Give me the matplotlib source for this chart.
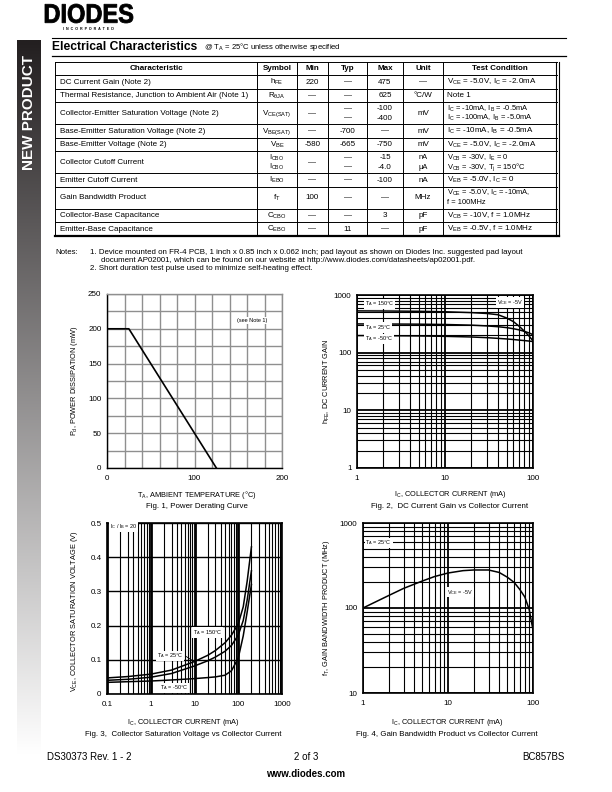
import numpy as np
import matplotlib
matplotlib.use('Agg')
import matplotlib.pyplot as plt
from matplotlib.ticker import FixedLocator, FixedFormatter, NullFormatter, LogLocator, MultipleLocator, FormatStrFormatter
from matplotlib.textpath import TextPath
from matplotlib.patches import PathPatch
from matplotlib.font_manager import FontProperties
from matplotlib.transforms import Affine2D
from matplotlib.colors import LinearSegmentedColormap

plt.rcParams['font.family'] = ['Liberation Sans', 'DejaVu Sans']
plt.rcParams['mathtext.fontset'] = 'custom'
plt.rcParams['mathtext.rm'] = 'Liberation Sans'
plt.rcParams['mathtext.it'] = 'Liberation Sans:italic'
plt.rcParams['mathtext.bf'] = 'Liberation Sans:bold'
plt.rcParams['mathtext.default'] = 'regular'

# ---------------- data ----------------
table_header = ["Characteristic", "Symbol", "Min", "Typ", "Max", "Unit", "Test Condition"]
characteristics = ["DC Current Gain (Note 2)",
                   "Thermal Resistance, Junction to Ambient Air (Note 1)",
                   "Collector-Emitter Saturation Voltage (Note 2)",
                   "Base-Emitter Saturation Voltage (Note 2)",
                   "Base-Emitter Voltage (Note 2)",
                   "Collector Cutoff Current",
                   "Emitter Cutoff Current",
                   "Gain Bandwidth Product",
                   "Collector-Base Capacitance",
                   "Emitter-Base Capacitance"]
symbols = ["$h_{FE}$", "$R_{θJA}$", "$V_{CE(SAT)}$", "$V_{BE(SAT)}$", "$V_{BE}$",
           "$I_{CBO}$\n$I_{CBO}$", "$I_{EBO}$", "$f_T$", "$C_{CBO}$", "$C_{EBO}$"]
min_vals = ["220", "—", "—", "—", "-580", "—", "—", "100", "—", "—"]
typ_vals = ["—", "—", "—\n—", "-700", "-665", "—\n—", "—", "—", "—", "11"]
max_vals = ["475", "625", "-100\n-400", "—", "-750", "-15\n-4.0", "-100", "—", "3", "—"]
units = ["—", "°C/W", "mV", "mV", "mV", "nA\nµA", "nA", "MHz", "pF", "pF"]
test_conditions = ["$V_{CE}$ = -5.0V, $I_C$ = -2.0mA",
                   "Note 1",
                   "$I_C$ = -10mA, $I_B$ = -0.5mA\n$I_C$ = -100mA, $I_B$ = -5.0mA",
                   "$I_C$ = -10mA, $I_B$ = -0.5mA",
                   "$V_{CE}$ = -5.0V, $I_C$ = -2.0mA",
                   "$V_{CB}$ = -30V, $I_E$ = 0\n$V_{CB}$ = -30V, $T_j$ = 150°C",
                   "$V_{EB}$ = -5.0V, $I_C$ = 0",
                   "$V_{CE}$ = -5.0V, $I_C$ = -10mA,\nf = 100MHz",
                   "$V_{CB}$ = -10V, f = 1.0MHz",
                   "$V_{EB}$ = -0.5V, f = 1.0MHz"]
notes = ["1. Device mounted on FR-4 PCB, 1 inch x 0.85 inch x 0.062 inch; pad layout as shown on Diodes Inc. suggested pad layout",
         "document AP02001, which can be found on our website at http://www.diodes.com/datasheets/ap02001.pdf.",
         "2. Short duration test pulse used to minimize self-heating effect."]

# Fig 1: power derating
temp_c = [0, 25, 125]
power_mw = [200, 200, 0]
# Fig 2: hFE vs Ic
ic2 = [1, 2, 5, 10, 20, 30, 40, 50, 60, 70, 80, 90, 100]
hfe_150 = [530, 528, 522, 512, 495, 478, 455, 400, 345, 285, 235, 195, 160]
hfe_25 = [315, 314, 312, 308, 300, 291, 282, 272, 260, 248, 234, 220, 205]
hfe_m50 = [198, 197, 195, 192, 187, 182, 177, 173, 169, 165, 162, 159, 156]
# Fig 3: Vce(sat) vs Ic
ic3 = [0.1, 0.3, 1, 3, 10, 20, 30, 50, 70, 100, 130, 160, 200]
vce_150 = [0.047, 0.051, 0.058, 0.070, 0.095, 0.113, 0.127, 0.150, 0.172, 0.205, 0.255, 0.33, 0.43]
vce_25 = [0.040, 0.043, 0.049, 0.060, 0.082, 0.097, 0.108, 0.125, 0.142, 0.172, 0.215, 0.275, 0.36]
vce_m50 = [0.034, 0.036, 0.038, 0.041, 0.045, 0.048, 0.050, 0.055, 0.068, 0.105, 0.17, 0.24, 0.32]
# Fig 4: fT vs Ic
ic4 = [1, 2, 3, 5, 7, 10, 15, 20, 30, 40, 50, 60, 70, 80, 90, 100]
ft = [100, 140, 170, 208, 235, 258, 275, 280, 280, 262, 230, 200, 165, 135, 97, 55]

# ---------------- figure ----------------
W, H = 612, 792
fig = plt.figure(figsize=(W / 100, H / 100), dpi=100)


def frame(l, t, r, b):
    return [l / W, 1 - b / H, (r - l) / W, (b - t) / H]


ax0 = fig.add_axes([0, 0, 1, 1])
ax0.axis('off')

# sidebar gradient
cmap = LinearSegmentedColormap.from_list('side', ['#231f20', '#ffffff'])
grad = np.linspace(0, 1, 256).reshape(-1, 1)
ax0.imshow(grad, extent=[17, 41, 755, 40], cmap=cmap, aspect='auto', interpolation='bilinear')
ax0.set_xlim(0, W)
ax0.set_ylim(H, 0)
ax0.text(29, 113, "NEW PRODUCT", rotation=90, color='white', weight='bold', fontsize=11,
         ha='center', va='center')

# logo
fp = FontProperties(family='Liberation Sans', weight='bold')
tp = TextPath((0, 0), "DIODES", size=1, prop=fp)
bb = tp.get_extents()
tr = Affine2D().translate(-bb.x0, -bb.y0).scale(88 / bb.width, -19 / bb.height).translate(45, 23) + ax0.transData
ax0.add_patch(PathPatch(tp, transform=tr, facecolor='black', edgecolor='black', lw=0.6))
ax0.text(88, 28.5, "I  N  C  O  R  P  O  R  A  T  E  D", fontsize=2.6, ha='center', va='center', weight='bold')

# header
ax0.plot([52, 566], [38, 38], color='black', lw=0.8)
ax0.plot([52, 566], [56, 56], color='black', lw=0.9)
ax0.text(52, 47.5, "Electrical Characteristics", fontsize=8.7, weight='bold', va='center')
ax0.text(204, 47, "@ $T_A$ = 25°C unless otherwise specified", fontsize=5.5, va='center')

# table
col_edges = [55, 257, 297, 328, 367, 403, 443, 557]
fs_t = 5.8
row_h1 = 13.4
row_add = 8.8
line_gap = 9.6
top = 62
y = top
for j in range(7):
    ax0.text((col_edges[j] + col_edges[j + 1]) / 2, y + row_h1 / 2, table_header[j],
             fontsize=fs_t, weight='bold', ha='center', va='center')
boundaries = [y, y + row_h1]
y += row_h1
for i in range(len(characteristics)):
    cells = [characteristics[i], symbols[i], min_vals[i], typ_vals[i], max_vals[i], units[i], test_conditions[i]]
    n = max(c.count('\n') + 1 for c in cells)
    h = row_h1 + row_add * (n - 1)
    cy = y + h / 2
    for j, c in enumerate(cells):
        lines = c.split('\n')
        k = len(lines)
        for li, s in enumerate(lines):
            yy = cy + (li - (k - 1) / 2) * line_gap
            fs = fs_t if (k == 1 or j in (0, 2, 3, 4)) else fs_t - 0.4
            if j == 0:
                ax0.text(60, yy, s, fontsize=fs, ha='left', va='center')
            elif j == 6:
                ax0.text(447, yy, s, fontsize=fs, ha='left', va='center')
            else:
                ax0.text((col_edges[j] + col_edges[j + 1]) / 2, yy, s, fontsize=fs, ha='center', va='center')
    y += h
    boundaries.append(y)
bottom = y
for b in boundaries[:-1]:
    ax0.plot([55, 557], [b, b], color='black', lw=0.7)
ax0.plot([55, 558.5], [bottom, bottom], color='black', lw=1.6)
for x in col_edges[:-1]:
    ax0.plot([x, x], [top, bottom], color='black', lw=0.7)
ax0.plot([555.5, 555.5], [top, bottom], color='black', lw=0.8)
ax0.plot([558.5, 558.5], [top, bottom], color='black', lw=0.8)

# notes
ax0.text(55, 253, "Notes:", fontsize=5.7, va='center')
ax0.text(90, 253, notes[0], fontsize=5.7, va='center')
ax0.text(101, 260.5, notes[1], fontsize=5.7, va='center')
ax0.text(90, 268, notes[2], fontsize=5.7, va='center')

# footer
ax0.text(47, 757, "DS30373 Rev. 1 - 2", fontsize=7, va='center')
ax0.text(306, 757, "2 of 3", fontsize=7, va='center', ha='center')
ax0.text(565, 757, "BC857BS", fontsize=7, va='center', ha='right')
ax0.text(306, 774, "www.diodes.com", fontsize=7, va='center', ha='center', weight='bold')

fs_tick = 5.8
fs_lab = 5.3
fs_cap = 5.7
fs_ann = 4.0
box = dict(facecolor='white', edgecolor='none', pad=0.6)


def log_setup(ax, xmaj, ymaj):
    ax.set_xscale('log')
    ax.set_yscale('log')
    ax.xaxis.set_major_locator(FixedLocator(xmaj))
    ax.xaxis.set_major_formatter(FixedFormatter([('%g' % v) for v in xmaj]))
    ax.yaxis.set_major_locator(FixedLocator(ymaj))
    ax.yaxis.set_major_formatter(FixedFormatter([('%g' % v) for v in ymaj]))
    ax.xaxis.set_minor_locator(LogLocator(base=10, subs=np.arange(2, 10), numticks=30))
    ax.yaxis.set_minor_locator(LogLocator(base=10, subs=np.arange(2, 10), numticks=30))
    ax.xaxis.set_minor_formatter(NullFormatter())
    ax.yaxis.set_minor_formatter(NullFormatter())
    ax.grid(True, which='major', color='black', lw=1.3)
    ax.grid(True, which='minor', color='black', lw=0.8)
    ax.set_axisbelow(True)
    for s in ax.spines.values():
        s.set_linewidth(1.2)
    ax.tick_params(which='both', length=0, labelsize=fs_tick)
    ax.tick_params(axis='x', pad=5)
    ax.tick_params(axis='y', pad=4)


# ---- Fig 1 ----
ax1 = fig.add_axes(frame(107, 294, 282, 468))
ax1.plot(temp_c, power_mw, color='black', lw=1.2)
ax1.set_xlim(0, 200)
ax1.set_ylim(0, 250)
ax1.xaxis.set_major_locator(FixedLocator([0, 100, 200]))
ax1.yaxis.set_major_locator(MultipleLocator(50))
ax1.xaxis.set_minor_locator(MultipleLocator(20))
ax1.yaxis.set_minor_locator(MultipleLocator(25))
ax1.grid(True, which='both', color='#8f8f8f', lw=1.0)
ax1.set_axisbelow(True)
ax1.tick_params(which='both', length=0, labelsize=fs_tick)
ax1.tick_params(axis='x', pad=5)
ax1.tick_params(axis='y', pad=4)
for k in ['top', 'right']:
    ax1.spines[k].set_color('#8f8f8f')
    ax1.spines[k].set_linewidth(1.0)
for k in ['left', 'bottom']:
    ax1.spines[k].set_linewidth(1.0)
ax1.text(166, 212, "(see Note 1)", fontsize=fs_ann, ha='center', va='center', bbox=box)
ax0.text(75, 381, "$P_d$, POWER DISSIPATION (mW)", rotation=90, fontsize=fs_lab, ha='center', va='center')
ax0.text(197, 495, "$T_A$, AMBIENT TEMPERATURE (°C)", fontsize=fs_lab, ha='center', va='center')
ax0.text(197, 507, "Fig. 1, Power Derating Curve", fontsize=fs_cap, ha='center', va='center')

# ---- Fig 2 ----
ax2 = fig.add_axes(frame(357, 295, 533, 468))
log_setup(ax2, [1, 10, 100], [1, 10, 100, 1000])
ax2.plot(ic2, hfe_150, color='black', lw=1.1)
ax2.plot(ic2, hfe_25, color='black', lw=1.1)
ax2.plot(ic2, hfe_m50, color='black', lw=1.1)
ax2.set_xlim(1, 100)
ax2.set_ylim(1, 1000)
ax2.text(1.23, 698, "$T_A$ = 150°C", fontsize=fs_ann, va='center', bbox=box)
ax2.text(1.23, 271, "$T_A$ = 25°C", fontsize=fs_ann, va='center', bbox=box)
ax2.text(1.23, 173, "$T_A$ = -50°C", fontsize=fs_ann, va='center', bbox=box)
ax2.text(39, 740, "$V_{CE}$ = -5V", fontsize=fs_ann, va='center', bbox=box)
ax0.text(327, 381, "$h_{FE}$, DC CURRENT GAIN", rotation=90, fontsize=fs_lab, ha='center', va='center')
ax0.text(450, 495, "$I_C$, COLLECTOR CURRENT (mA)", fontsize=fs_lab, ha='center', va='center')
ax0.text(450, 507, "Fig. 2,  DC Current Gain vs Collector Current", fontsize=fs_cap, ha='center', va='center')

# ---- Fig 3 ----
ax3 = fig.add_axes(frame(107, 523, 282, 694))
ax3.set_xscale('log')
xm3 = [0.1, 1, 10, 100, 1000]
ax3.xaxis.set_major_locator(FixedLocator(xm3))
ax3.xaxis.set_major_formatter(FixedFormatter(['0.1', '1', '10', '100', '1000']))
ax3.xaxis.set_minor_locator(LogLocator(base=10, subs=np.arange(2, 10), numticks=30))
ax3.xaxis.set_minor_formatter(NullFormatter())
ax3.yaxis.set_major_locator(MultipleLocator(0.1))
ax3.yaxis.set_major_formatter(FormatStrFormatter('%g'))
ax3.xaxis.grid(True, which='major', color='black', lw=2.0)
ax3.xaxis.grid(True, which='minor', color='black', lw=0.8)
ax3.yaxis.grid(True, which='major', color='black', lw=1.0)
ax3.set_axisbelow(True)
for s in ax3.spines.values():
    s.set_linewidth(1.2)
ax3.tick_params(which='both', length=0, labelsize=fs_tick)
ax3.tick_params(axis='x', pad=5)
ax3.tick_params(axis='y', pad=4)
ax3.plot(ic3, vce_150, color='black', lw=1.1)
ax3.plot(ic3, vce_25, color='black', lw=1.1)
ax3.plot(ic3, vce_m50, color='black', lw=1.1)
ax3.set_xlim(0.1, 1000)
ax3.set_ylim(0, 0.5)
ax3.text(0.115, 0.49, "$I_C$ / $I_B$ = 20", fontsize=fs_ann, va='center', bbox=box)
ax3.text(9.2, 0.18, "$T_A$ = 150°C", fontsize=fs_ann, va='center', bbox=box)
ax3.text(1.39, 0.111, "$T_A$ = 25°C", fontsize=fs_ann, va='center', bbox=box)
ax3.plot([6.2, 8.5], [0.111, 0.100], color='black', lw=0.6)
ax3.text(1.6, 0.018, "$T_A$ = -50°C", fontsize=fs_ann, va='center', bbox=box)
ax0.text(74, 611, "$V_{CE}$, COLLECTOR SATURATION VOLTAGE (V)", rotation=90, fontsize=fs_lab, ha='center', va='center')
ax0.text(183, 723, "$I_C$, COLLECTOR CURRENT (mA)", fontsize=fs_lab, ha='center', va='center')
ax0.text(183, 734, "Fig. 3,  Collector Saturation Voltage vs Collector Current", fontsize=fs_cap, ha='center', va='center')

# ---- Fig 4 ----
ax4 = fig.add_axes(frame(363, 523, 533, 693))
log_setup(ax4, [1, 10, 100], [10, 100, 1000])
ax4.plot(ic4, ft, color='black', lw=1.1)
ax4.set_xlim(1, 100)
ax4.set_ylim(10, 1000)
ax4.text(1.07, 582, "$T_A$ = 25°C", fontsize=fs_ann, va='center', bbox=box)
ax4.text(9.7, 154, "$V_{CE}$ = -5V", fontsize=fs_ann, va='center', bbox=box)
ax0.text(327, 608, "$f_T$, GAIN BANDWIDTH PRODUCT (MHz)", rotation=90, fontsize=fs_lab, ha='center', va='center')
ax0.text(447, 723, "$I_C$, COLLECTOR CURRENT (mA)", fontsize=fs_lab, ha='center', va='center')
ax0.text(447, 734, "Fig. 4, Gain Bandwidth Product vs Collector Current", fontsize=fs_cap, ha='center', va='center')

fig.savefig('out.png', dpi=100)
